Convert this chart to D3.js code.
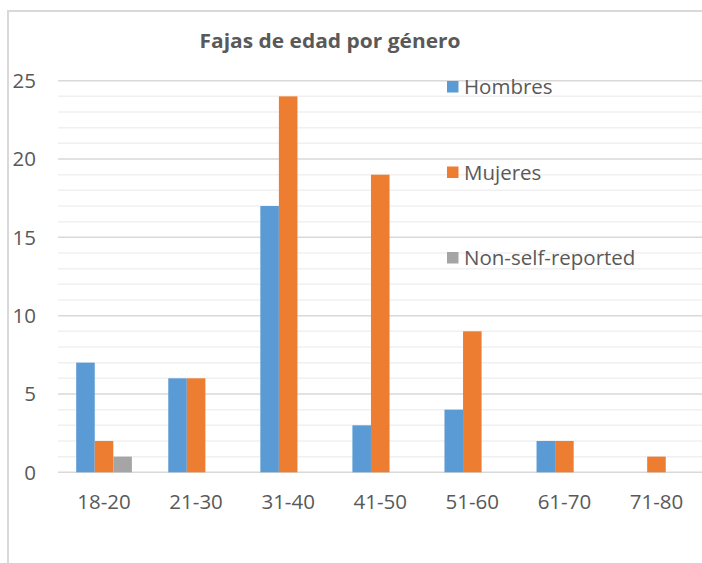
<!DOCTYPE html>
<html>
<head>
<meta charset="utf-8">
<script src="https://cdn.jsdelivr.net/npm/d3@7"></script>
<style>
  body { margin: 0; background: #fff; }
  svg { display: block; font-family: "Open Sans", sans-serif; }
  .tick-label { fill: #595959; font-size: 20.5px; }
</style>
</head>
<body>
<div id="chart"></div>
<script>
const width = 702,
  height = 563,
  margin = { top: 80.7, bottom: 90.7, left: 58, right: -0.5 };

const categories = ["18-20", "21-30", "31-40", "41-50", "51-60", "61-70", "71-80"];
const seriesNames = ["Hombres", "Mujeres", "Non-self-reported"];
const hombres = [7, 6, 17, 3, 4, 2, 0];
const mujeres = [2, 6, 24, 19, 9, 2, 1];
const nonSelf = [1, 0, 0, 0, 0, 0, 0];
const yTicks = [0, 5, 10, 15, 20, 25];
const colors = ["#5B9BD5", "#ED7D31", "#A5A5A5"];

const seriesValues = [hombres, mujeres, nonSelf];
const rows = categories.map((c, i) => ({
  cat: c,
  values: seriesNames.map((s, j) => ({ key: s, value: seriesValues[j][i] })),
}));

const svg = d3
  .select("#chart")
  .append("svg")
  .attr("width", width)
  .attr("height", height);

// chart frame (only left and top edges show in the crop)
svg
  .append("path")
  .attr("d", `M8,${height + 2}V11H${width + 2}`)
  .attr("fill", "none")
  .attr("stroke", "#d9d9d9")
  .attr("stroke-width", 2);

const x0 = d3
  .scaleBand()
  .domain(categories)
  .range([margin.left, width - margin.right])
  .paddingInner(0.395)
  .paddingOuter(0.1975);

const x1 = d3.scaleBand().domain(seriesNames).range([0, x0.bandwidth()]);

const y = d3
  .scaleLinear()
  .domain([0, 25])
  .range([height - margin.bottom, margin.top]);

// minor gridlines every unit, major every 5
svg
  .append("g")
  .selectAll("line")
  .data(d3.range(1, 26).filter(v => v % 5 !== 0))
  .join("line")
  .attr("x1", margin.left)
  .attr("x2", width)
  .attr("y1", d => y(d))
  .attr("y2", d => y(d))
  .attr("stroke", "#f0f0f0")
  .attr("stroke-width", 1.5);

svg
  .append("g")
  .selectAll("line")
  .data(yTicks)
  .join("line")
  .attr("x1", margin.left)
  .attr("x2", width)
  .attr("y1", d => y(d))
  .attr("y2", d => y(d))
  .attr("stroke", "#d9d9d9")
  .attr("stroke-width", 1.5);

// y tick labels
svg
  .append("g")
  .selectAll("text")
  .data(yTicks)
  .join("text")
  .attr("class", "tick-label")
  .attr("x", 36)
  .attr("y", d => y(d))
  .attr("dy", "0.36em")
  .attr("text-anchor", "end")
  .text(d => d);

// bars
svg
  .append("g")
  .selectAll("g")
  .data(rows)
  .join("g")
  .attr("transform", d => `translate(${x0(d.cat)},0)`)
  .selectAll("rect")
  .data(d => d.values.filter(v => v.value > 0))
  .join("rect")
  .attr("x", d => x1(d.key))
  .attr("width", x1.bandwidth())
  .attr("y", d => y(d.value))
  .attr("height", d => y(0) - y(d.value))
  .attr("fill", d => colors[seriesNames.indexOf(d.key)]);

// x labels
svg
  .append("g")
  .selectAll("text")
  .data(categories)
  .join("text")
  .attr("class", "tick-label")
  .attr("x", d => x0(d) + x0.bandwidth() / 2)
  .attr("y", 509)
  .attr("text-anchor", "middle")
  .text(d => d);

// title
svg
  .append("text")
  .attr("x", 330)
  .attr("y", 48)
  .attr("text-anchor", "middle")
  .attr("font-size", 19)
  .attr("font-weight", "bold")
  .attr("fill", "#595959")
  .attr("textLength", 261)
  .attr("lengthAdjust", "spacingAndGlyphs")
  .text("Fajas de edad por género");

// legend
const legend = svg
  .append("g")
  .selectAll("g")
  .data(seriesNames)
  .join("g")
  .attr("transform", (d, i) => `translate(447,${94 + i * 85.5})`);

legend
  .append("rect")
  .attr("y", -13)
  .attr("width", 11.5)
  .attr("height", 11.5)
  .attr("fill", (d, i) => colors[i]);

legend
  .append("text")
  .attr("class", "tick-label")
  .attr("x", 17)
  .text(d => d);
</script>
</body>
</html>
